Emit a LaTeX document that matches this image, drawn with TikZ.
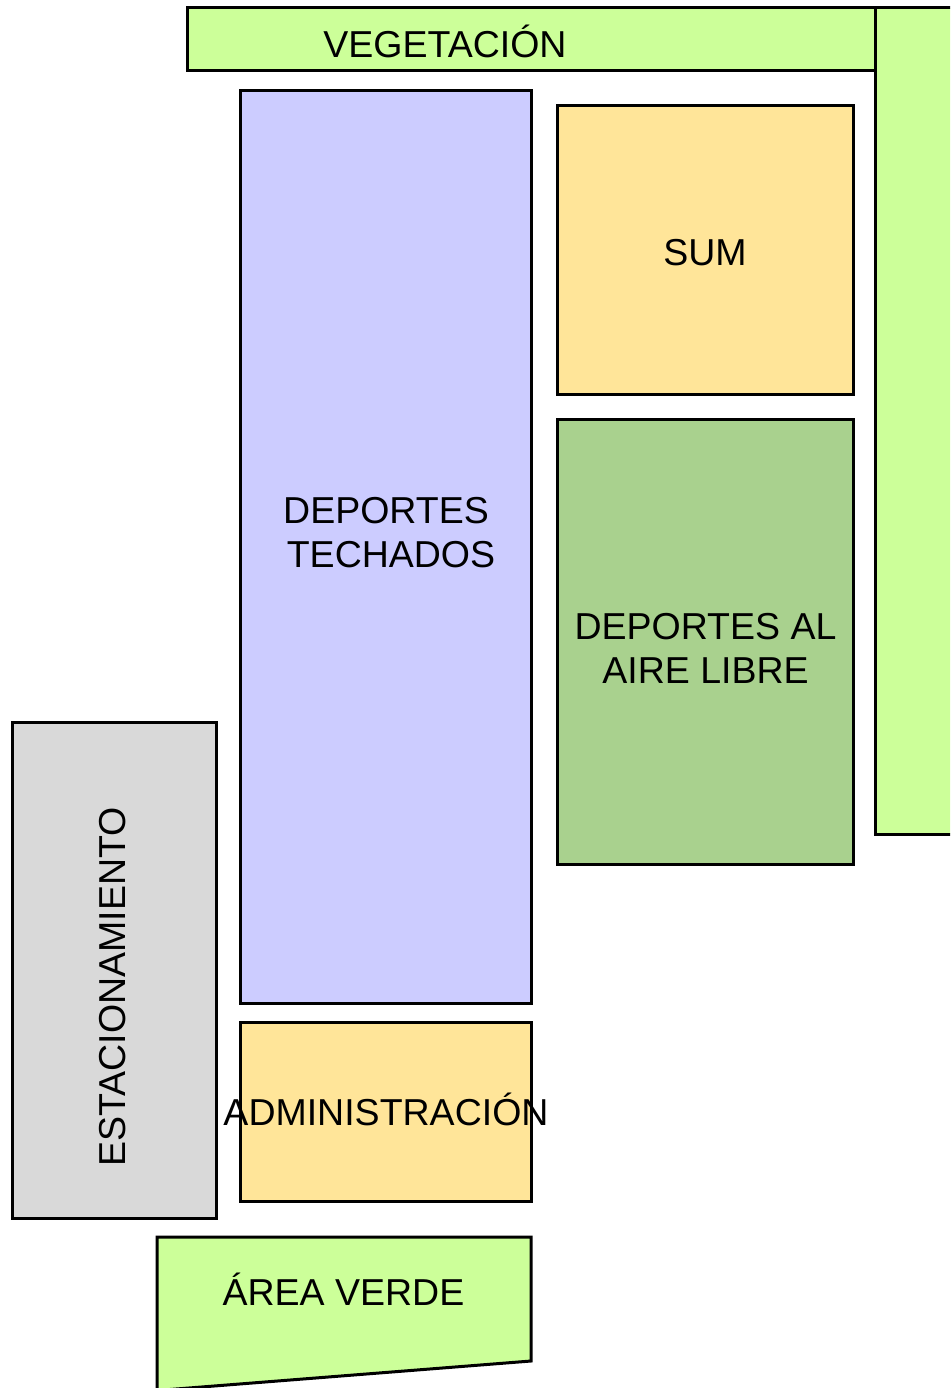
\documentclass[tikz,border=0pt]{standalone}
\usepackage{fontspec}
\setmainfont{Liberation Sans}
\definecolor{veg}{HTML}{CCFF99}
\definecolor{techo}{HTML}{CCCCFF}
\definecolor{amar}{HTML}{FFE599}
\definecolor{verdeosc}{HTML}{A9D18E}
\definecolor{gris}{HTML}{D9D9D9}
\begin{document}
\begin{tikzpicture}[x=1pt,y=-1pt,
  zone/.style={draw=black,line width=3pt,line join=miter},
  lbl/.style={font=\fontsize{37.5}{44}\selectfont,inner sep=0pt,align=center,text=black}]
\useasboundingbox (0,0) rectangle (950,1388);
\clip (0,0) rectangle (950,1388);
% vegetation
\draw[zone,fill=veg] (875,8) rectangle (960,834);
\draw[zone,fill=veg] (187,8) rectangle (875,71);
% deportes techados
\draw[zone,fill=techo] (240,91) rectangle (531,1003);
% SUM
\draw[zone,fill=amar] (557,106) rectangle (853,394);
% deportes al aire libre
\draw[zone,fill=verdeosc] (557,419) rectangle (853,864);
% estacionamiento
\draw[zone,fill=gris] (12,722) rectangle (216,1218);
% administracion
\draw[zone,fill=amar] (240,1022) rectangle (531,1201);
% area verde
\draw[zone,fill=veg] (157,1237) -- (531,1237) -- (531,1361) -- (157,1390.5) -- cycle;
% labels
\node[lbl,anchor=base] (vegl) at (445,58) {VEGETACIÓN};
\node[lbl] (suml) at (705,253) {SUM};
\node[lbl] (dtl) at (386,533) {DEPORTES\\\hspace*{10pt}TECHADOS};
\node[lbl] (dall) at (705.5,648) {DEPORTES AL\\AIRE LIBRE};
\node[lbl,rotate=90] (estl) at (113,987) {ESTACIONAMIENTO};
\node[lbl,anchor=base] (adml) at (386,1125) {ADMINISTRACIÓN};
\node[lbl,anchor=base] (avl) at (343.5,1305) {ÁREA VERDE};
\end{tikzpicture}
\end{document}
